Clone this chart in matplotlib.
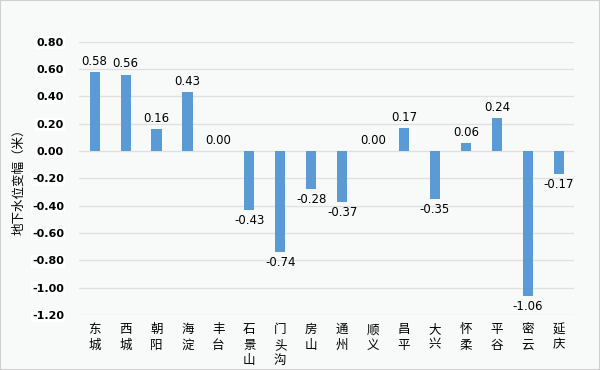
import matplotlib
matplotlib.use("Agg")
import matplotlib.pyplot as plt
from matplotlib.patches import Rectangle

plt.rcParams['font.family'] = ['Noto Sans CJK SC', 'DejaVu Sans']

districts = ["东城", "西城", "朝阳", "海淀", "丰台", "石景山", "门头沟", "房山",
             "通州", "顺义", "昌平", "大兴", "怀柔", "平谷", "密云", "延庆"]
changes = [0.58, 0.56, 0.16, 0.43, 0.00, -0.43, -0.74, -0.28,
           -0.37, 0.00, 0.17, -0.35, 0.06, 0.24, -1.06, -0.17]
yticks = [0.80, 0.60, 0.40, 0.20, 0.00, -0.20, -0.40, -0.60, -0.80, -1.00, -1.20]

bg = '#f8faf9'
fig = plt.figure(figsize=(6, 3.7), dpi=100, facecolor=bg)
fig.patches.append(Rectangle((0, 0), 1, 1, transform=fig.transFigure,
                             fill=False, edgecolor='#d0d0d0', linewidth=1.5))
ax = fig.add_axes([0.132, 0.149, 0.825, 0.738])
ax.set_facecolor(bg)

x = list(range(len(districts)))
ax.bar(x, changes, width=0.33, color='#5b9bd5', zorder=3)

for xi, v in zip(x, changes):
    if v >= 0:
        ax.text(xi, v + 0.03, f"{v:.2f}", ha='center', va='bottom', fontsize=8.5,
                family=['DejaVu Sans'])
    else:
        ax.text(xi, v - 0.03, f"{v:.2f}", ha='center', va='top', fontsize=8.5,
                family=['DejaVu Sans'])

ax.set_ylim(-1.20, 0.80)
ax.set_xlim(-0.5, len(districts) - 0.5)
ax.set_yticks(yticks)
ax.set_yticklabels([f"{t:.2f}" for t in yticks], fontsize=8, fontweight='bold',
                   family=['DejaVu Sans'])
for lbl in ax.get_yticklabels():
    lbl.set_bbox(dict(facecolor='white', edgecolor='none', pad=1))
ax.tick_params(axis='y', length=0, pad=11)
ax.tick_params(axis='x', length=0, pad=6)
ax.set_xticks(x)
ax.set_xticklabels(["\n".join(d) for d in districts], fontsize=9, linespacing=1.25)
ax.yaxis.grid(True, color='#e0e0e0', linewidth=1, zorder=0)
for s in ax.spines.values():
    s.set_visible(False)

ax.set_ylabel("地下水位变幅（米）", fontsize=9)
ax.yaxis.set_label_coords(-0.109, 0.5)

fig.savefig("out.png", dpi=100, facecolor=bg)
